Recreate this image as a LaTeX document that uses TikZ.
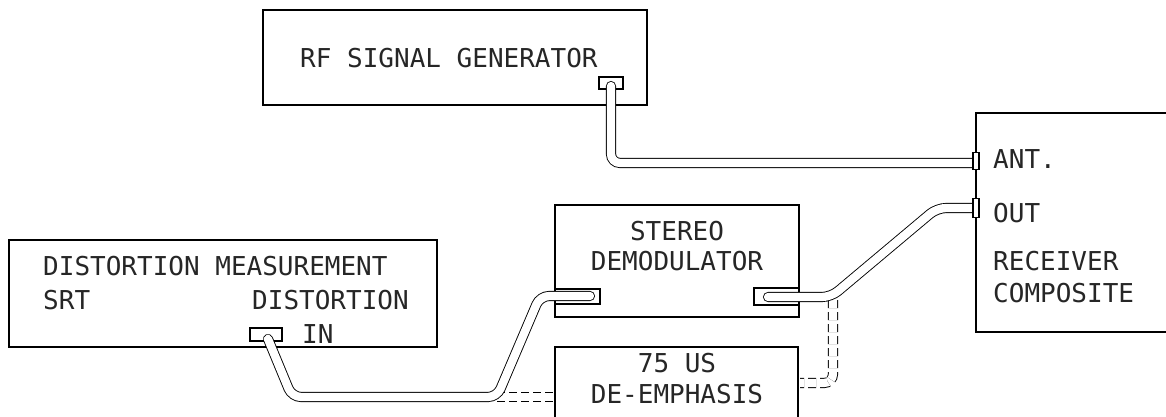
\documentclass[tikz,border=0pt]{standalone}
\usepackage{fontspec}
\newfontfamily\labelfont{DejaVu Sans Mono}
\begin{document}
\begin{tikzpicture}[x=1pt,y=-1pt,
  box/.style={draw, line width=1.2pt, rectangle, inner sep=0pt, outer sep=0pt, anchor=north west},
  conn/.style={draw, line width=1.1pt, rectangle, fill=white, inner sep=0pt, outer sep=0pt},
  lbl/.style={inner sep=0pt, anchor=base west, text=black!85, font=\labelfont\fontsize{26}{30}\selectfont},
  clbl/.style={lbl, anchor=base},
  cable/.style={draw=black, line width=0.9pt, double=white, double distance=8.3pt, rounded corners=9pt, line cap=round},
  dcable/.style={cable, dash pattern=on 8pt off 4pt, line cap=butt}]
\useasboundingbox (0,0) rectangle (1166,417);
\clip (0,0) rectangle (1166,417);
% boxes
\node[box, minimum width=384pt, minimum height=95pt] (rf) at (263,10) {};
\node[box, minimum width=220pt, minimum height=219pt] (rcv) at (976,113) {};
\node[box, minimum width=244pt, minimum height=112pt] (dem) at (555,205) {};
\node[box, minimum width=243pt, minimum height=90pt] (emp) at (555,347) {};
\node[box, minimum width=428pt, minimum height=107pt] (dist) at (9,240) {};
% labels
\node[lbl] (trf) at (300,68) {RF SIGNAL GENERATOR};
\node[lbl] (tant) at (993,168) {ANT.};
\node[lbl] (tout) at (993,222) {OUT};
\node[lbl] (trcv) at (993,270) {RECEIVER};
\node[lbl] (tcmp) at (993,302) {COMPOSITE};
\node[clbl] (tst) at (677,240) {STEREO};
\node[clbl] (tdm) at (677,270) {DEMODULATOR};
\node[clbl] (t75) at (677,372) {75 US};
\node[clbl] (tde) at (677,403) {DE-EMPHASIS};
\node[lbl] (tdist) at (43,275) {DISTORTION MEASUREMENT};
\node[lbl] (tsrt) at (43,309) {SRT};
\node[lbl] (tdin) at (252,309) {DISTORTION};
\node[lbl] (tin) at (302,343) {IN};
% connectors on instruments
\node[conn, minimum width=24pt, minimum height=12pt] (rfc) at (611,83) {};
\node[conn, minimum width=45pt, minimum height=15pt] (dmlc) at (577.5,296.5) {};
\node[conn, minimum width=45pt, minimum height=17pt] (dmrc) at (776.5,296.5) {};
\node[conn, minimum width=32pt, minimum height=13pt] (inc) at (266,334.5) {};
% cable end points and bends
\coordinate (rfs) at (611,86);
\coordinate (ante) at (974,163);
\coordinate (ins) at (268,339);
\coordinate (b1) at (292,397);
\coordinate (b2) at (497,397);
\coordinate (b3) at (540,296);
\coordinate (dml) at (590,296);
\coordinate (dmr) at (768,297);
\coordinate (b4) at (831,297);
\coordinate (b5) at (937,208);
\coordinate (oute) at (974,208);
\coordinate (d1) at (833,300);
\coordinate (d2) at (833,383);
\coordinate (empr) at (800,383);
\coordinate (empl) at (555,397);
% dashed alternative routing through de-emphasis
\draw[dcable] (d1) -- (d2) -- (empr);
\draw[dcable] (b2) -- (empl);
% cables
\draw[cable] (rfs) |- (ante);
\draw[cable] (ins) -- (b1) -- (b2) -- (b3) -- (dml);
\draw[cable] (dmr) -- (b4) -- (b5) -- (oute);
% connectors on receiver
\node[conn, minimum width=6pt, minimum height=17pt] (antc) at (976,161) {};
\node[conn, minimum width=6pt, minimum height=19pt] (outc) at (976,208) {};
\end{tikzpicture}
\end{document}
